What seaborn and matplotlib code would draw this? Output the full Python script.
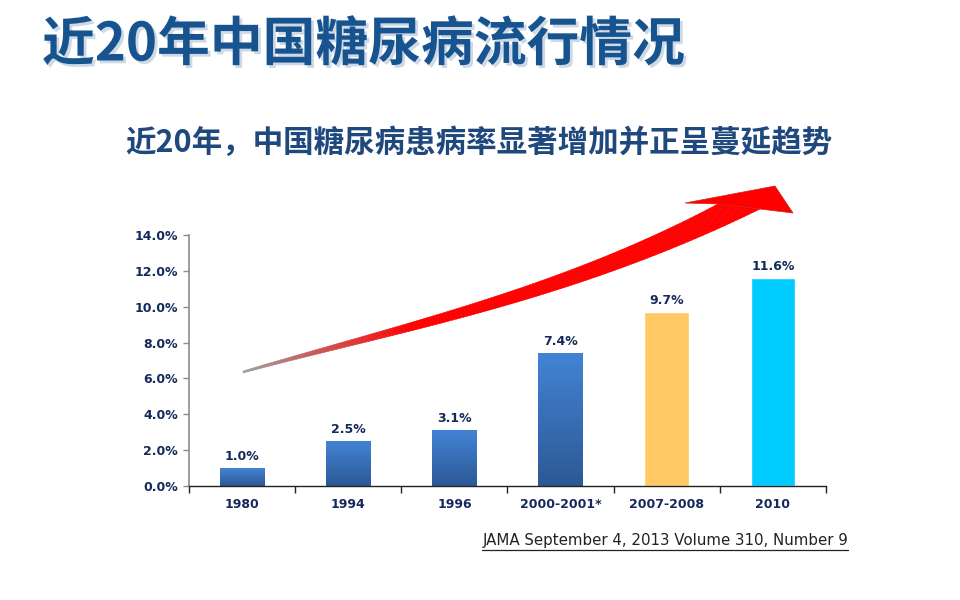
import numpy as np
import pandas as pd
import seaborn as sns
import matplotlib
matplotlib.use('Agg')
import matplotlib.pyplot as plt
import matplotlib.patheffects as pe
from matplotlib.colors import LinearSegmentedColormap
from matplotlib.collections import PolyCollection
from matplotlib.patches import Polygon
from matplotlib.lines import Line2D

# data
years = ['1980', '1994', '1996', '2000-2001*', '2007-2008', '2010']
prevalence = [1.0, 2.5, 3.1, 7.4, 9.7, 11.6]
value_labels = ['1.0%', '2.5%', '3.1%', '7.4%', '9.7%', '11.6%']
y_ticks = [0, 2, 4, 6, 8, 10, 12, 14]
bar_colors = ['#3a74c4', '#3a74c4', '#3a74c4', '#3a74c4', '#ffc966', '#00ccff']

title = '近20年中国糖尿病流行情况'
subtitle = '近20年，中国糖尿病患病率显著增加并正呈蔓延趋势'
source = 'JAMA September 4, 2013 Volume 310, Number 9'

NAVY = '#142a5c'
W, H = 960, 600

sns.set_style('white')
plt.rcParams['font.family'] = ['Noto Sans CJK SC', 'DejaVu Sans']


def fx(px):
    return px / W


def fy(py):
    return 1 - py / H


def bezier(pts, t):
    p = np.array(pts, float)
    t = t[:, None]
    return ((1 - t) ** 3) * p[0] + 3 * ((1 - t) ** 2) * t * p[1] \
        + 3 * (1 - t) * t ** 2 * p[2] + t ** 3 * p[3]


def draw_arrow(fig):
    # tapered curved arrow, grey at the tail fading into red
    t = np.linspace(0, 1, 150)
    upper = bezier([(243, 371), (400, 324), (560, 288), (718, 204)], t)
    lower = bezier([(243, 373), (400, 331), (570, 302), (760, 209)], t)
    to_fig = lambda a: np.column_stack([a[:, 0] / W, 1 - a[:, 1] / H])
    up, lo = to_fig(upper), to_fig(lower)
    quads = [[up[i], up[i + 1], lo[i + 1], lo[i]] for i in range(len(t) - 1)]
    frac = np.clip(t[:-1] / 0.35, 0, 1)[:, None]
    grey = np.array([0.62, 0.62, 0.62])
    red = np.array([1.0, 0.0, 0.0])
    cols = grey * (1 - frac) + red * frac
    pc = PolyCollection(quads, facecolors=cols, edgecolors=cols, linewidths=0.4,
                        transform=fig.transFigure, zorder=3)
    fig.add_artist(pc)
    head = np.array([(718, 204), (685, 203), (775, 186), (793, 213), (760, 209)], float)
    fig.add_artist(Polygon(to_fig(head), closed=True, facecolor='red', edgecolor='#d02020',
                           linewidth=0.5, transform=fig.transFigure, zorder=3))


fig = plt.figure(figsize=(9.6, 6), dpi=100)
ax = fig.add_axes([fx(189), fy(486), fx(826) - fx(189), fy(235) - fy(486)])
ax.patch.set_alpha(0)

df = pd.DataFrame({'year': years, 'rate': prevalence})
sns.barplot(data=df, x='year', y='rate', hue='year', palette=bar_colors,
            width=0.42, saturation=1, legend=False, ax=ax)

# gradient fill for the blue bars
grad = LinearSegmentedColormap.from_list('bluegrad', ['#2c5996', '#4383d4'])
g = np.linspace(0, 1, 100).reshape(-1, 1)
bars = sorted(ax.patches, key=lambda p: p.get_x())
for patch in bars[:4]:
    x0, y0 = patch.get_x(), patch.get_y()
    w, h = patch.get_width(), patch.get_height()
    im = ax.imshow(g, cmap=grad, extent=(x0, x0 + w, y0, y0 + h), origin='lower',
                   aspect='auto', zorder=patch.get_zorder() + 0.1)
    im.set_clip_path(patch)

ax.set_xlim(-0.5, len(years) - 0.5)
ax.set_ylim(0, 14)

for i, (v, lab) in enumerate(zip(prevalence, value_labels)):
    ax.text(i, v + 0.3, lab, ha='center', va='bottom', fontsize=9,
            fontweight='bold', color=NAVY, family='DejaVu Sans')

ax.set_yticks(y_ticks)
ax.set_yticklabels([f'{t:.1f}%' for t in y_ticks])
ax.set_xticks(range(len(years)))
ax.set_xticklabels(years)
ax.set_xticks(np.arange(-0.5, len(years)), minor=True)
ax.set_xlabel('')
ax.set_ylabel('')

for s in ['top', 'right']:
    ax.spines[s].set_visible(False)
ax.spines['left'].set_color('#8c8c8c')
ax.spines['left'].set_linewidth(1.2)
ax.spines['bottom'].set_color('#222222')
ax.spines['bottom'].set_linewidth(1.0)

ax.tick_params(axis='y', left=True, length=4, width=1, color='#8c8c8c',
               labelsize=9, labelcolor=NAVY, pad=4)
ax.tick_params(axis='x', which='major', bottom=False, length=0,
               labelsize=9, labelcolor=NAVY, pad=9)
ax.tick_params(axis='x', which='minor', bottom=True, length=5, width=1,
               color='#222222', direction='out')
for lbl in ax.get_xticklabels() + ax.get_yticklabels():
    lbl.set_fontweight('bold')
    lbl.set_family('DejaVu Sans')

fig.text(fx(42), fy(45), title, fontsize=38, fontweight='bold', color='#17548f',
         ha='left', va='center',
         path_effects=[pe.withSimplePatchShadow(offset=(2, -2), shadow_rgbFace='#9fb4cc', alpha=0.5)])
fig.text(fx(125), fy(143), subtitle, fontsize=22, fontweight='bold', color='#1f497d',
         ha='left', va='center')

src = fig.text(fx(848), fy(541), source, ha='right', va='center', fontsize=10.8,
               color='#222222', family='DejaVu Sans')

draw_arrow(fig)

fig.canvas.draw()
bb = src.get_window_extent()
fig.add_artist(Line2D([bb.x0 / W, bb.x1 / W], [(bb.y0 - 1) / H, (bb.y0 - 1) / H],
                      color='#222222', linewidth=0.9, transform=fig.transFigure))

fig.savefig('out.png', dpi=100)
